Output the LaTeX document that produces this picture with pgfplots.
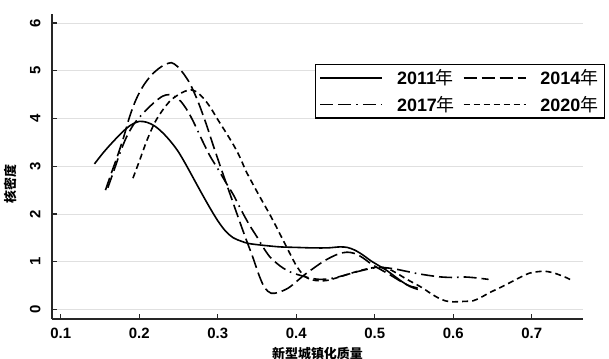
\documentclass[border=0pt]{standalone}
\usepackage{pgfplots}
\pgfplotsset{compat=1.18}
\usepackage{fontspec}
\setmainfont{Liberation Sans}
\newfontfamily\cjk{Noto Sans CJK SC}
\begin{document}
\begin{tikzpicture}
\begin{axis}[
  at={(0,0)}, anchor=south west,
  scale only axis, width=531bp, height=305bp,
  xmin=0.0889, xmax=0.7653, ymin=-0.2, ymax=6.19,
  axis x line*=bottom, axis y line*=left,
  axis line style={line width=1.4bp, black!85},
  xtick={0.1,0.2,...,0.7}, ytick={0,1,...,6},
  tick align=inside, major tick length=5bp,
  tick style={line width=1.2bp, black!85},
  ymajorgrids, grid style={line width=0.7bp, black!12},
  xticklabel={\pgfmathprintnumber[fixed,fixed zerofill,precision=1,assume math mode=true]{\tick}},
  yticklabel={\pgfmathprintnumber[fixed,precision=0,assume math mode=true]{\tick}},
  tick label style={font=\fontsize{15}{15}\selectfont\bfseries},
  yticklabel style={rotate=90, anchor=south, yshift=8bp},
  xticklabel style={yshift=-6bp},
  xlabel={\cjk\bfseries 新型城镇化质量},
  ylabel={\cjk\bfseries 核密度},
  xlabel style={font=\fontsize{13}{13}\selectfont, yshift=-1bp},
  ylabel style={font=\fontsize{13}{13}\selectfont, at={(axis description cs:0,0.443)}, anchor=center, yshift=42bp},
  legend columns=2,
  legend cell align=left,
  legend style={at={(rel axis cs:0.495,0.836)}, anchor=north west,
    draw=black, line width=1.3bp, inner xsep=4bp, inner ysep=3bp,
    font=\fontsize{18}{18}\selectfont\bfseries,
    /tikz/every even column/.append style={column sep=6bp},
    /tikz/every odd column/.append style={column sep=12bp},
    row sep=6bp},
  legend image code/.code={\draw[#1] (0bp,0bp) -- (62bp,0bp);},
  no markers,
  every axis plot/.append style={line width=1.6bp, black, smooth, tension=0.5},
]
\addplot[solid] coordinates {(0.143,3.05)(0.155,3.3)(0.167,3.52)(0.18,3.74)(0.19,3.87)(0.2,3.94)(0.21,3.92)(0.22,3.84)(0.23,3.7)(0.24,3.52)(0.25,3.3)(0.26,3.02)(0.27,2.72)(0.28,2.42)(0.29,2.13)(0.3,1.86)(0.31,1.64)(0.32,1.5)(0.33,1.43)(0.34,1.38)(0.36,1.34)(0.38,1.31)(0.4,1.3)(0.42,1.29)(0.44,1.29)(0.455,1.31)(0.465,1.3)(0.475,1.24)(0.485,1.14)(0.495,1.02)(0.505,0.92)(0.515,0.82)(0.525,0.7)(0.535,0.58)(0.545,0.48)(0.555,0.42)};
\addlegendentry{2011{\cjk\mdseries 年}}
\addplot[dash pattern=on 13bp off 5bp] coordinates {(0.157,2.5)(0.165,2.88)(0.172,3.2)(0.18,3.6)(0.188,4.05)(0.196,4.4)(0.205,4.68)(0.215,4.9)(0.225,5.05)(0.233,5.13)(0.241,5.17)(0.248,5.1)(0.256,4.95)(0.265,4.72)(0.275,4.35)(0.285,3.9)(0.295,3.4)(0.305,2.92)(0.315,2.45)(0.325,1.98)(0.335,1.52)(0.345,1.08)(0.353,0.7)(0.36,0.45)(0.368,0.34)(0.378,0.36)(0.39,0.45)(0.4,0.58)(0.41,0.72)(0.42,0.84)(0.434,1.0)(0.445,1.1)(0.455,1.17)(0.465,1.2)(0.475,1.17)(0.485,1.08)(0.495,0.96)(0.505,0.86)(0.52,0.72)(0.535,0.57)(0.545,0.49)(0.555,0.45)};
\addlegendentry{2014{\cjk\mdseries 年}}
\addplot[dash pattern=on 13bp off 5bp on 13bp off 5bp on 1.6bp off 5bp] coordinates {(0.16,2.55)(0.168,2.92)(0.176,3.3)(0.184,3.62)(0.193,3.88)(0.2,4.02)(0.209,4.18)(0.22,4.35)(0.23,4.47)(0.238,4.5)(0.245,4.46)(0.253,4.36)(0.262,4.15)(0.27,3.9)(0.28,3.55)(0.29,3.22)(0.3,2.95)(0.31,2.67)(0.32,2.4)(0.33,2.08)(0.34,1.78)(0.35,1.52)(0.358,1.3)(0.366,1.11)(0.375,0.97)(0.383,0.87)(0.393,0.78)(0.404,0.72)(0.417,0.66)(0.43,0.63)(0.445,0.65)(0.46,0.71)(0.475,0.78)(0.49,0.84)(0.5,0.87)(0.51,0.88)(0.525,0.85)(0.54,0.8)(0.555,0.75)(0.57,0.71)(0.585,0.68)(0.6,0.67)(0.615,0.68)(0.63,0.66)(0.645,0.63)};
\addlegendentry{2017{\cjk\mdseries 年}}
\addplot[dash pattern=on 6bp off 4bp] coordinates {(0.192,2.75)(0.2,3.1)(0.21,3.55)(0.22,3.92)(0.23,4.18)(0.24,4.38)(0.25,4.5)(0.258,4.57)(0.266,4.6)(0.274,4.55)(0.282,4.42)(0.29,4.25)(0.3,3.98)(0.31,3.72)(0.32,3.45)(0.328,3.2)(0.336,2.9)(0.345,2.62)(0.355,2.32)(0.366,2.0)(0.375,1.72)(0.383,1.46)(0.392,1.17)(0.4,0.92)(0.407,0.76)(0.413,0.67)(0.42,0.62)(0.43,0.6)(0.44,0.61)(0.455,0.68)(0.47,0.76)(0.485,0.83)(0.5,0.88)(0.51,0.88)(0.52,0.83)(0.53,0.74)(0.54,0.64)(0.55,0.55)(0.56,0.46)(0.57,0.35)(0.58,0.25)(0.59,0.18)(0.6,0.16)(0.615,0.17)(0.625,0.18)(0.635,0.25)(0.646,0.35)(0.66,0.46)(0.672,0.56)(0.685,0.67)(0.697,0.76)(0.707,0.79)(0.717,0.8)(0.727,0.77)(0.736,0.72)(0.745,0.66)(0.752,0.6)};
\addlegendentry{2020{\cjk\mdseries 年}}
\end{axis}
\pgfresetboundingbox
\path[use as bounding box] (-52bp,-40bp) rectangle (557bp,305bp+14bp);
\end{tikzpicture}
\end{document}
